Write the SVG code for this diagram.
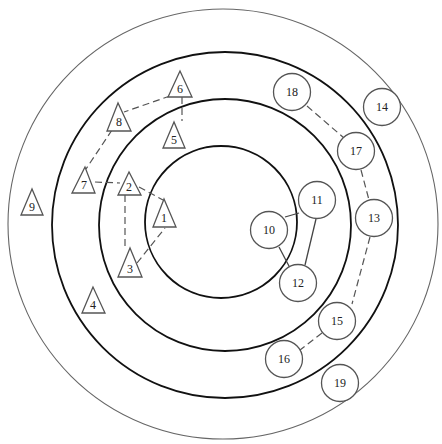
<svg xmlns="http://www.w3.org/2000/svg" width="442" height="444" viewBox="0 0 442 444">
<style>
.ring{fill:none;stroke:#111;stroke-width:1.8}
.outer{fill:none;stroke:#666;stroke-width:1.1}
.tri{fill:#fff;stroke:#555;stroke-width:1.3}
.cir{fill:#fff;stroke:#555;stroke-width:1.3}
.lbl{font-family:"Liberation Serif",serif;font-size:12px;fill:#222;text-anchor:middle}
.dash{fill:none;stroke:#555;stroke-width:1.2;stroke-dasharray:7,4}
.solid{fill:none;stroke:#444;stroke-width:1.3}
</style>
<rect width="442" height="444" fill="#fff"/>
<g id="rings">
<circle class="outer" cx="223" cy="224" r="215"/>
<circle class="ring" cx="225" cy="225" r="173"/>
<circle class="ring" cx="225" cy="225" r="126"/>
<circle class="ring" cx="221" cy="222" r="76"/>
</g>
<g id="connectors">
<line class="dash" x1="170" y1="96" x2="124" y2="112"/>
<line class="dash" x1="182" y1="97" x2="182" y2="121"/>
<line class="dash" x1="112" y1="130" x2="86" y2="169"/>
<line class="dash" x1="95" y1="182" x2="120" y2="183"/>
<line class="dash" x1="139" y1="187" x2="163" y2="200"/>
<line class="dash" x1="125" y1="195" x2="125" y2="250"/>
<line class="dash" x1="137" y1="263" x2="165" y2="228"/>
<line class="solid" x1="285" y1="217" x2="299" y2="213"/>
<line class="solid" x1="279" y1="247" x2="290" y2="268"/>
<line class="solid" x1="316" y1="219" x2="305" y2="265"/>
<line class="dash" x1="307" y1="106" x2="344" y2="138"/>
<line class="dash" x1="361" y1="170" x2="369" y2="200"/>
<line class="dash" x1="370" y1="237" x2="352" y2="304"/>
<line class="dash" x1="322" y1="333" x2="300" y2="350"/>
</g>
<g id="n1"><polygon class="tri" points="164,199 153,227 176,227"/><text class="lbl" x="164" y="222">1</text></g>
<g id="n2"><polygon class="tri" points="129,172 118,195 141,195"/><text class="lbl" x="129" y="191">2</text></g>
<g id="n3"><polygon class="tri" points="130,248 118,277 142,277"/><text class="lbl" x="130" y="273">3</text></g>
<g id="n4"><polygon class="tri" points="93,287 82,313 105,313"/><text class="lbl" x="93" y="309">4</text></g>
<g id="n5"><polygon class="tri" points="174,122 163,148 185,148"/><text class="lbl" x="174" y="144">5</text></g>
<g id="n6"><polygon class="tri" points="180,71 168,97 192,97"/><text class="lbl" x="180" y="93">6</text></g>
<g id="n7"><polygon class="tri" points="85,167 72,193 95,193"/><text class="lbl" x="84" y="189">7</text></g>
<g id="n8"><polygon class="tri" points="118,103 107,131 131,131"/><text class="lbl" x="119" y="126">8</text></g>
<g id="n9"><polygon class="tri" points="32,189 21,215 43,215"/><text class="lbl" x="32" y="211">9</text></g>
<g id="n10"><circle class="cir" cx="269" cy="230" r="18.5"/><text class="lbl" x="269" y="234">10</text></g>
<g id="n11"><circle class="cir" cx="317" cy="200" r="18.5"/><text class="lbl" x="317" y="204">11</text></g>
<g id="n12"><circle class="cir" cx="298" cy="283" r="18.5"/><text class="lbl" x="298" y="287">12</text></g>
<g id="n13"><circle class="cir" cx="374" cy="218" r="18.5"/><text class="lbl" x="374" y="222">13</text></g>
<g id="n14"><circle class="cir" cx="382" cy="107" r="18.5"/><text class="lbl" x="382" y="111">14</text></g>
<g id="n15"><circle class="cir" cx="337" cy="321" r="18.5"/><text class="lbl" x="337" y="325">15</text></g>
<g id="n16"><circle class="cir" cx="284" cy="359" r="18.5"/><text class="lbl" x="284" y="363">16</text></g>
<g id="n17"><circle class="cir" cx="356" cy="151" r="18.5"/><text class="lbl" x="356" y="155">17</text></g>
<g id="n18"><circle class="cir" cx="292" cy="92" r="18.5"/><text class="lbl" x="292" y="96">18</text></g>
<g id="n19"><circle class="cir" cx="340" cy="383" r="18.5"/><text class="lbl" x="340" y="387">19</text></g>
</svg>
